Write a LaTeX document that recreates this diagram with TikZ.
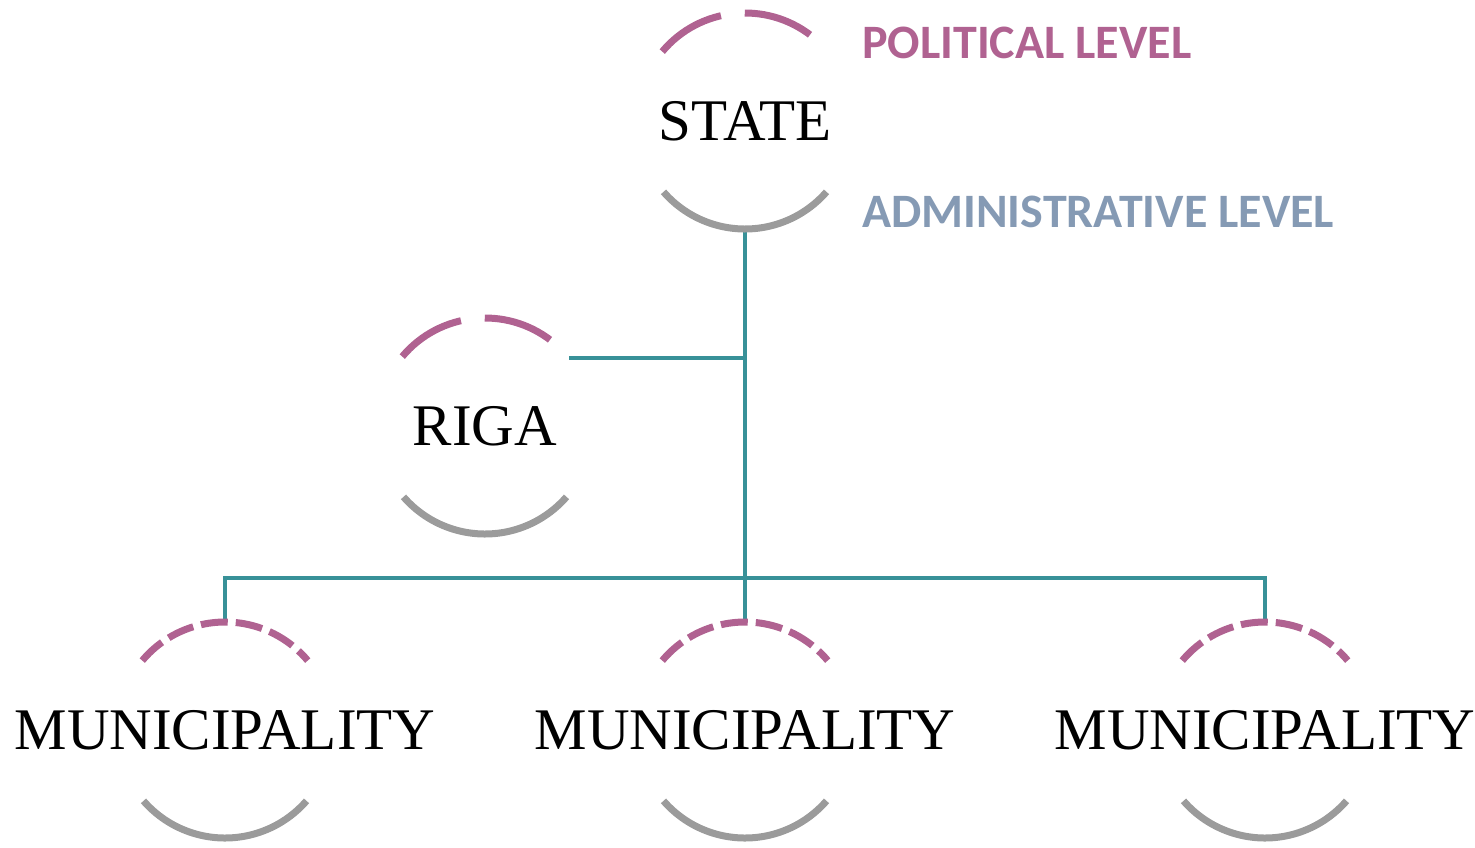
\documentclass[tikz,border=0pt]{standalone}
\usepackage{fontspec}
\setmainfont{Liberation Serif}
\newfontfamily\labfont{Carlito}
\definecolor{polc}{RGB}{176,98,145}
\definecolor{admc}{RGB}{133,154,180}
\definecolor{grayc}{RGB}{155,155,155}
\definecolor{tealc}{RGB}{56,145,152}
\tikzset{
  ring/.style={circle, minimum size=216pt, inner sep=0pt, draw=none},
  unitname/.style={font=\fontsize{59}{62}\selectfont, inner sep=0pt},
  lvl/.style={font=\labfont\bfseries\fontsize{48}{52}\selectfont, inner sep=0pt, anchor=base west},
  polarc/.style={draw=polc, line width=7pt},
  admarc/.style={draw=grayc, line width=7pt},
  conn/.style={draw=tealc, line width=4.5pt},
}
\begin{document}
\begin{tikzpicture}[x=1pt,y=1pt]
\useasboundingbox (0,0) rectangle (1475,-847);
% rings
\node[ring] (state) at (745,-121) {};
\node[ring] (riga) at (485,-426) {};
\node[ring] (m1) at (225,-730) {};
\node[ring] (m2) at (745,-730) {};
\node[ring] (m3) at (1265,-730) {};
% texts
\node[unitname] (statet) at (state.center) {STATE};
\node[unitname] (rigat) at (riga.center) {RIGA};
\node[unitname] (m1t) at (m1.center) {MUNICIPALITY};
\node[unitname] (m2t) at (m2.center) {MUNICIPALITY};
\node[unitname] (m3t) at (m3.center) {MUNICIPALITY};
\node[lvl, text=polc] (pol) at (862,-58) {POLITICAL LEVEL};
\node[lvl, text=admc] (adm) at (862,-227) {ADMINISTRATIVE LEVEL};
% connectors
\coordinate (bus) at (745,-578);
\draw[conn] (state.south) -- (m2.north);
\draw[conn] (riga.39) -- (riga.39 -| state.south);
\draw[conn] (m1.north) |- (bus) -| (m3.north);
% arcs top (political) for state and riga
\foreach \n in {state,riga}{
  \draw[polarc, dash pattern=on 70pt off 24pt] ([shift={(140:108pt)}]\n.center) arc[start angle=140, end angle=52, radius=108pt];
}
\foreach \n in {m1,m2,m3}{
  \draw[polarc, dash pattern=on 27pt off 8pt] ([shift={(140:108pt)}]\n.center) arc[start angle=140, end angle=40, radius=108pt];
}
\foreach \n in {state,riga,m1,m2,m3}{
  \draw[admarc] ([shift={(221:108pt)}]\n.center) arc[start angle=221, end angle=319, radius=108pt];
}
\end{tikzpicture}
\end{document}
